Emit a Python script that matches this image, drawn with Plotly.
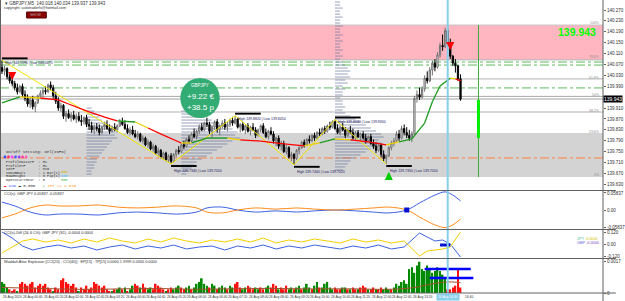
import plotly.graph_objects as go

# ---------------- DATA ----------------
BASE = 139.0  # prices below are thousandths above 139.000 (943 -> 139.943)
opens_pts = [1060,1045,1055,1025,1010,1000,985,970,990,960,
             945,925,940,915,930,955,965,975,970,995,
             985,955,935,910,920,880,890,875,885,870,
             880,865,860,875,850,845,830,840,835,820,
             840,850,835,825,840,830,845,860,850,835,
             820,830,815,805,815,790,800,775,785,760,
             770,745,755,730,745,720,735,715,740,755,
             750,775,770,795,790,815,805,825,840,830,
             855,850,825,840,860,830,845,855,840,850,
             865,855,870,840,850,830,845,825,840,830,
             810,830,845,820,805,825,815,790,800,770,
             780,750,765,730,740,725,755,765,785,775,
             795,790,810,800,820,815,835,825,845,840,
             860,835,820,840,830,810,830,820,800,820,
             805,815,800,790,805,780,770,755,775,740,
             725,735,765,780,790,815,800,835,820,810,
             800,815,945,960,950,980,1020,1010,1050,1075,
             1060,1105,1140,1135,1195,1145,1100,1075,1065,1018]
highs_pts = [1085,1065,1060,1040,1030,1010,1000,995,1000,975,
             960,950,955,935,960,975,985,990,1000,1008,
             995,970,950,930,925,900,905,895,900,890,
             895,885,880,885,870,860,850,855,850,845,
             860,865,850,845,855,850,870,875,865,850,
             840,845,830,825,820,810,805,795,790,780,
             775,765,760,750,750,740,745,745,760,770,
             780,790,800,810,820,835,830,850,855,860,
             875,860,845,865,870,850,865,870,860,872,
             878,882,875,855,860,850,855,845,855,840,
             835,850,855,835,830,840,825,805,810,790,
             790,775,770,750,745,760,770,790,795,800,
             810,815,820,825,835,840,845,850,860,865,
             868,850,845,855,840,835,845,835,825,830,
             820,825,815,810,815,795,785,780,780,755,
             740,770,790,800,825,830,845,850,840,830,
             825,955,975,985,990,1030,1045,1060,1085,1090,
             1115,1150,1180,1205,1210,1165,1105,1090,1068,1034]
lows_pts = [1035,1030,1015,1000,990,975,960,965,950,935,
            915,910,905,895,925,945,950,960,965,975,
            945,925,900,895,870,860,870,860,865,855,
            860,845,850,840,830,820,815,825,810,815,
            830,830,815,820,825,820,840,845,830,815,
            810,810,800,795,785,780,770,765,755,750,
            740,735,725,720,715,710,705,710,730,740,
            745,760,765,780,785,800,795,815,825,825,
            840,815,800,830,820,810,835,830,825,840,
            845,850,835,820,825,815,820,810,825,800,
            805,820,815,800,795,810,780,770,760,755,
            745,740,725,715,702,720,740,760,765,770,
            780,785,790,795,805,810,815,820,830,835,
            830,815,810,825,800,805,815,795,795,800,
            790,795,780,785,775,760,745,750,730,715,
            705,730,755,770,785,790,795,810,800,790,
            785,810,930,940,945,970,1000,1005,1030,1045,
            1055,1095,1120,1130,1135,1090,1065,1040,1010,937]
closes_pts = [1045,1055,1025,1010,1000,985,970,990,960,945,
              925,940,915,930,955,965,975,970,995,985,
              955,935,910,920,880,890,875,885,870,880,
              865,860,875,850,845,830,840,835,820,840,
              850,835,825,840,830,845,860,850,835,820,
              830,815,805,815,790,800,775,785,760,770,
              745,755,730,745,720,735,715,740,755,750,
              775,770,795,790,815,805,825,840,830,855,
              850,825,840,860,830,845,855,840,850,865,
              855,870,840,850,830,845,825,840,830,810,
              830,845,820,805,825,815,790,800,770,780,
              750,765,730,740,725,755,765,785,775,795,
              790,810,800,820,815,835,825,845,840,860,
              835,820,840,830,810,830,820,800,820,805,
              815,800,790,805,780,770,755,775,740,725,
              735,765,780,790,815,800,835,820,810,800,
              815,945,960,950,980,1020,1010,1050,1075,1060,
              1105,1140,1135,1195,1145,1100,1075,1065,1018,943]

# coloured moving average (knots)
ma_bars = [0,7,15,22,26,34,41,45,52,57,63,70,74,80,88,93,101,111,118,124,
           130,136,143,150,155,160,165,168,171,175,177,179]
ma_pts = [929,951,947,940,925,896,874,863,859,837,811,782,782,800,800,793,789,778,771,782,
          797,793,786,775,786,797,855,933,991,1020,1017,1010]
ma_cols = "gyrrrrrgyrryggyrrrygyrrygggggyrr"

# zigzag pivots
zz_bars = [0, 66, 91, 114, 130, 150]
zz_prices = [140.085, 139.705, 139.882, 139.702, 139.868, 139.705]
zz_kind = ["H", "L", "H", "L", "H", "L"]
zz_texts = ["High 140.1590 | Low 140.0675", "High 139.7340 | Low 139.7050",
            "High 139.8820 | Low 139.8450", "High 139.7400 | Low 139.7020",
            "High 139.8680 | Low 139.8300", "High 139.7350 | Low 139.7050"]

# arrows
sig_bars = [4, 175, 151]
sig_prices = [140.013, 140.123, 139.676]
sig_dirs = ["down", "down", "up"]

# volume profiles (base bar, price rows, row lengths in bars)
prof1_base = 33
prof1_prices = [139.910,139.899,139.888,139.877,139.866,139.855,139.844,139.833,139.822,139.811,
                139.800,139.789,139.778,139.767,139.756,139.745,139.734,139.723,139.712,139.701,
                139.690,139.679,139.668]
prof1_len = [2,3,4,5,6,8,10,11,12,11,12,10,9,8,7,6,5,4,4,3,3,2,2]
prof2_base = 70
prof2_prices = [139.899,139.888,139.877,139.866,139.855,139.844,139.833,139.822,139.811,139.800,
                139.789,139.778,139.767,139.756,139.745,139.734,139.723,139.712,139.701,139.690,
                139.679,139.668]
prof2_len = [3,6,9,12,15,18,20,22,21,23,20,18,16,14,12,10,8,6,5,4,3,2]
prof3_base = 130
prof3_prices = [140.299,140.288,140.277,140.266,140.255,140.244,140.233,140.222,140.211,140.200,
                140.189,140.178,140.167,140.156,140.145,140.134,140.123,140.112,140.101,140.090,
                140.079,140.068,140.057,140.046,140.035,140.024,140.013,140.002,139.991,139.980,
                139.969,139.958,139.947,139.936,139.925,139.914,139.903,139.892,139.881,139.870,
                139.859,139.848,139.837,139.826,139.815,139.804,139.793,139.782,139.771,139.760,
                139.749,139.738,139.727,139.716,139.705,139.694,139.683]
prof3_len = [2,2,3,2,2,3,2,2,3,2,2,3,2,3,2,2,3,2,3,2,
             3,4,5,6,5,6,4,5,3,4,3,3,2,3,
             3,4,3,4,
             6,8,10,12,14,16,18,19,17,18,16,14,12,10,8,6,5,4,3]

# levels / zones
pink_zone = [140.087, 140.215]
gray_zone = [139.657, 139.819]
level_prices = [140.215, 140.087, 140.079, 140.068, 140.017, 139.984, 139.953, 139.896, 139.727]
level_colors = ["#C8C8C8", "#B0B0B0", "#5DBB5D", "#5DBB5D", "#B4B4B4", "#5DBB5D", "#A8A8A8", "#D8D8D8", "#FF7F3F"]
level_widths = [1, 1, 1, 1, 1, 1, 1, 2, 1]
level_dash = ["solid", "solid", "dashdot", "dashdot", "solid", "dashdot", "solid", "solid", "dashdot"]
fib_labels = ["100%", "78.6%", "61.8%", "50%", "38.2%", "23.6%", "0%"]
fib_prices = [140.222, 140.097, 140.021, 139.958, 139.900, 139.823, 139.664]
target_bar = 186
target_range = [139.800, 139.940]
crosshair_bar = 174

main_ticks = [140.270,140.230,140.190,140.150,140.110,140.070,140.030,139.990,
              139.910,139.870,139.830,139.790,139.750,139.710,139.670,139.630]

# CCI panel
cci_bars = [0,5,11,17,22,30,38,45,53,61,68,76,80,86,92,99,107,115,122,130,138,145,151,158,163,169,173,176,179]
cci_gbp = [0.027,0.014,-0.007,-0.017,-0.014,-0.014,-0.017,-0.010,-0.007,-0.010,-0.014,-0.007,0.007,0.010,0.0,
           -0.007,-0.003,-0.007,-0.003,0.0,-0.003,-0.007,-0.010,0.0,0.024,0.051,0.062,0.051,0.031]
cci_jpy = [-0.027,-0.014,0.007,0.017,0.014,0.014,0.017,0.010,0.007,0.010,0.014,0.007,-0.007,-0.010,0.0,
           0.007,0.003,0.007,0.003,0.0,0.003,0.007,0.010,0.0,-0.024,-0.051,-0.060,-0.051,-0.031]

# CCI diff panel
p2_bars = [0,4,8,12,17,22,27,32,37,42,47,52,57,62,67,72,77,82,87,92,
           97,102,107,112,117,122,127,132,137,142,147,152,157,160,163,166,169,172,175,179]
p2_gbp = [0.12,0.06,-0.02,-0.06,-0.03,-0.01,-0.04,-0.02,-0.06,-0.03,-0.01,-0.05,-0.02,-0.04,-0.01,-0.05,-0.03,-0.02,-0.06,-0.02,
          -0.04,-0.01,-0.05,-0.02,-0.04,-0.01,-0.03,-0.05,-0.02,-0.04,-0.01,-0.05,-0.03,0.04,0.11,0.07,0.03,0.04,0.00,-0.13]
p2_jpy = [-0.09,-0.03,0.03,0.05,0.02,0.04,0.01,0.05,0.02,0.06,0.03,0.01,0.05,0.02,0.06,0.03,0.01,0.04,0.02,0.05,
          0.02,0.06,0.01,0.04,0.02,0.05,0.03,0.01,0.05,0.02,0.04,0.01,0.03,-0.05,-0.12,-0.07,-0.06,-0.05,-0.03,0.12]

# Waddah Attar histogram (x 0.0001)
hist_e4 = [6,5,3,2, 1,2,1,5, 6,5,4,5,6,3,4,5, 4,5,3,2,1,3, 2,7,8,6,5,4,5,3,
           1,3,2,4,2,3,6, 5,4,3,4,2,1,1,2, 2,3,2,3,1,2,4, 5,4,3,5,3,2,3,2,
           5,4,3,2,1,2,3,2,3, 4,3,2,3,4,2,3,5,6, 8,5,4,3,5,4,2,3,
           4,3,2,4,3,5,6,3,2,3, 4,3,2,3,2,3,2,3,4, 3,5,4,2,3,2,4,2,3,
           2,3,4,2,3,5,3,2,4, 6,3,3,5,6,3,2,3,2, 2,3,3,2,2,3,2,2,3,
           4,3,2,2,3,2,2,3,2, 3,2,2,3,5,4,6,7, 5,13,14,11,15,17,13,12,
           15,13,11,12,14,12,10,8, 2,2,3,4,13,3]
hist_col = ("gggr" "rrgr" "rrrrrrrr" "rrrrgr" "rrrrrrrr" "grrrrrr" "rrrrrrgr" "ggrgrgg"
            "rrgrrggr" "rrrrgrrgg" "grrggrggg" "gggrggrg" "ggrggrrrgg" "rrrggrrgg"
            "rrrgrrrgg" "rggrgggrg" "grgggggrr" "rggrgrrgr" "rrgrrgrrg"
            "ggrggggg" "gggggggg" "gggggggg" "rrrrrr")
expl_bars = [0,15,30,45,60,75,90,105,120,135,150,158,163,168,172,176,179]
expl_e4 = [3,2.5,2,2.2,2.5,2,2.3,2.5,2.2,2.3,2,2.5,3.5,5,5.8,6,5.5]
hist_lvl_start = [165, 167]
hist_lvl_end = [183, 184]
hist_lvl_val = [0.00131, 0.00082]

tick_bars = [0,8,16,24,32,40,48,56,64,72,80,88,96,104,112,120,128,136,144,152,160]
tick_labels = ["26 Aug 2020","26 Aug 00:40","26 Aug 01:20","26 Aug 02:00","26 Aug 02:40","26 Aug 03:20",
               "26 Aug 04:00","26 Aug 04:40","26 Aug 05:20","26 Aug 06:00","26 Aug 06:40","26 Aug 07:20",
               "26 Aug 08:00","26 Aug 08:40","26 Aug 09:20","26 Aug 10:00","26 Aug 10:40","26 Aug 11:20",
               "26 Aug 12:00","26 Aug 12:40","26 Aug 13:20"]
crosshair_label = "26 Aug 14:30"
tail_label_bar = 180.3
tail_label = "14:40"

# ---------------- GEOMETRY ----------------
bars = list(range(len(closes_pts)))
opens = [BASE + v / 1000 for v in opens_pts]
highs = [BASE + v / 1000 for v in highs_pts]
lows = [BASE + v / 1000 for v in lows_pts]
closes = [BASE + v / 1000 for v in closes_pts]
ma_prices = [BASE + v / 1000 for v in ma_pts]
hist_vals = [v / 10000 for v in hist_e4]
expl_vals = [v / 10000 for v in expl_e4]

PW, PH = 612, 293
def px(x): return x / PW
def py(y): return 1 - y / PH

BAR_PX, FIRST_PX = 2.6, 2.0
XR = [(0 - FIRST_PX) / BAR_PX, (PW - FIRST_PX) / BAR_PX]
MAIN_R = [139.6094, 140.3067]

fig = go.Figure()
SANS = "Liberation Sans"
MONO = "Liberation Mono"

for base, prs, lens in [(prof1_base, prof1_prices, prof1_len), (prof2_base, prof2_prices, prof2_len),
                        (prof3_base, prof3_prices, prof3_len)]:
    fig.add_trace(go.Bar(orientation="h", y=prs, x=lens, base=base, width=0.0055,
                         marker=dict(color="rgba(105,118,155,0.45)", line=dict(width=0)),
                         xaxis="x", yaxis="y", showlegend=False, hoverinfo="skip"))

fig.add_trace(go.Candlestick(x=bars, open=opens, high=highs, low=lows, close=closes,
                             increasing=dict(line=dict(color="#707070", width=1), fillcolor="#ffffff"),
                             decreasing=dict(line=dict(color="#000000", width=1), fillcolor="#000000"),
                             whiskerwidth=0, xaxis="x", yaxis="y", showlegend=False, hoverinfo="skip"))

fig.add_trace(go.Scatter(x=zz_bars, y=zz_prices, mode="lines", line=dict(color="#F2E600", width=1),
                         xaxis="x", yaxis="y", showlegend=False, hoverinfo="skip"))

cmap = {"g": "#1E9A1E", "r": "#FF0000", "y": "#F0D000"}
for c, col in cmap.items():
    xs, ys = [], []
    for k in range(len(ma_bars) - 1):
        if ma_cols[k] == c:
            xs += [ma_bars[k], ma_bars[k + 1], None]
            ys += [ma_prices[k], ma_prices[k + 1], None]
    fig.add_trace(go.Scatter(x=xs, y=ys, mode="lines", line=dict(color=col, width=1.3),
                             xaxis="x", yaxis="y", showlegend=False, hoverinfo="skip"))

fig.add_trace(go.Scatter(x=cci_bars, y=cci_gbp, mode="lines", line=dict(color="#3D62E0", width=1, shape="spline"),
                         xaxis="x2", yaxis="y2", showlegend=False, hoverinfo="skip"))
fig.add_trace(go.Scatter(x=cci_bars, y=cci_jpy, mode="lines", line=dict(color="#FF8C1A", width=1, shape="spline"),
                         xaxis="x2", yaxis="y2", showlegend=False, hoverinfo="skip"))
fig.add_trace(go.Scatter(x=[158], y=[0.0], mode="markers", marker=dict(symbol="square", size=5, color="#0010D0"),
                         xaxis="x2", yaxis="y2", showlegend=False, hoverinfo="skip"))
fig.add_trace(go.Scatter(x=p2_bars, y=p2_gbp, mode="lines", line=dict(color="#3D62E0", width=1),
                         xaxis="x3", yaxis="y3", showlegend=False, hoverinfo="skip"))
fig.add_trace(go.Scatter(x=p2_bars, y=p2_jpy, mode="lines", line=dict(color="#F5D000", width=1),
                         xaxis="x3", yaxis="y3", showlegend=False, hoverinfo="skip"))
fig.add_trace(go.Scatter(x=[171, 175], y=[-0.01, -0.01], mode="lines", line=dict(color="#0010D0", width=3),
                         xaxis="x3", yaxis="y3", showlegend=False, hoverinfo="skip"))
hcols = ["#008A00" if c == "g" else "#FF1010" for c in hist_col]
fig.add_trace(go.Bar(x=bars, y=hist_vals, width=0.65, marker=dict(color=hcols, line=dict(width=0)),
                     xaxis="x4", yaxis="y4", showlegend=False, hoverinfo="skip"))
fig.add_trace(go.Scatter(x=expl_bars, y=expl_vals, mode="lines", line=dict(color="#A0522D", width=1, shape="spline"),
                         xaxis="x4", yaxis="y4", showlegend=False, hoverinfo="skip"))
for b0, b1, v in zip(hist_lvl_start, hist_lvl_end, hist_lvl_val):
    fig.add_trace(go.Scatter(x=[b0, b1], y=[v, v], mode="lines", line=dict(color="#0000FF", width=2.5),
                             xaxis="x4", yaxis="y4", showlegend=False, hoverinfo="skip"))

shapes = []
shapes.append(dict(type="rect", xref="paper", yref="y", x0=0, x1=1, y0=pink_zone[0], y1=pink_zone[1],
                   fillcolor="#FFB6C1", line=dict(width=0), layer="below"))
shapes.append(dict(type="rect", xref="paper", yref="y", x0=0, x1=1, y0=gray_zone[0], y1=gray_zone[1],
                   fillcolor="#D3D3D3", line=dict(width=0), layer="below"))
for p, c, w, d in zip(level_prices, level_colors, level_widths, level_dash):
    shapes.append(dict(type="line", xref="paper", yref="y", x0=0, x1=1, y0=p, y1=p,
                       line=dict(color=c, width=w, dash=d), layer="below"))
shapes.append(dict(type="line", xref="paper", yref="y", x0=0, x1=1, y0=closes[-1], y1=closes[-1],
                   line=dict(color="#D0D0D0", width=2), layer="below"))
shapes.append(dict(type="line", xref="x", yref="y", x0=target_bar, x1=target_bar, y0=gray_zone[0], y1=pink_zone[1],
                   line=dict(color="#3DAA3D", width=1)))
shapes.append(dict(type="line", xref="x", yref="y", x0=target_bar, x1=target_bar, y0=target_range[0], y1=target_range[1],
                   line=dict(color="#00EE00", width=3)))
for b, p, k in zip(zz_bars, zz_prices, zz_kind):
    y0, y1 = (p + 0.004, p + 0.011) if k == "H" else (p - 0.011, p - 0.004)
    shapes.append(dict(type="rect", xref="x", yref="y", x0=b, x1=b + 10, y0=y0, y1=y1,
                       fillcolor="#000000", line=dict(width=0)))
shapes.append(dict(type="line", xref="x", yref="paper", x0=crosshair_bar, x1=crosshair_bar, y0=0, y1=1,
                   line=dict(color="#87CEEB", width=2)))
shapes.append(dict(type="circle", xref="paper", yref="paper", x0=px(183), x1=px(223), y0=py(118), y1=py(78),
                   fillcolor="#33AC74", line=dict(width=0)))
shapes.append(dict(type="rect", xref="paper", yref="paper", x0=px(27), x1=px(47), y0=py(18), y1=py(12),
                   fillcolor="#8B0000", line=dict(color="#5A0000", width=1)))
for i, c in enumerate(["#3050FF", "#FF3060", "#FF40FF", "#4060FF", "#A040FF", "#FF40A0", "#FF60C0"]):
    cx = 5 + 3.6 * i
    shapes.append(dict(type="circle", xref="paper", yref="paper", x0=px(cx - 1.4), x1=px(cx + 1.4),
                       y0=py(158.4), y1=py(155.6), fillcolor=c, line=dict(width=0)))
for yy in [190.5, 229.5, 258.5, 293]:
    shapes.append(dict(type="line", xref="paper", yref="paper", x0=0, x1=625 / PW, y0=py(yy), y1=py(yy),
                       line=dict(color="#606060", width=1)))
shapes.append(dict(type="line", xref="paper", yref="paper", x0=1, x1=1, y0=py(301), y1=1,
                   line=dict(color="#606060", width=1)))
shapes.append(dict(type="line", xref="paper", yref="paper", x0=px(0.5), x1=px(0.5), y0=py(293), y1=1,
                   line=dict(color="#606060", width=1)))

ann = []
def txt(t, x, y, size=4, color="#303030", family=SANS, anchor="left"):
    ann.append(dict(text=t, x=px(x), y=py(y), xref="paper", yref="paper", showarrow=False,
                    xanchor=anchor, yanchor="middle", font=dict(size=size, color=color, family=family)))

txt("▾ GBPJPY,M5  %.3f %.3f %.3f %.3f" % (opens[-1], highs[-1], lows[-1], closes[-1]), 3, 4, 4.5)
txt("copyright: autotraderfx@hotmail.com", 2, 8.5, 3.8)
txt("SHOW", 37, 15, 3.5, "#B0B0B0", anchor="center")
txt("GBPJPY", 203, 86, 4.5, "#ffffff", anchor="center")
txt("+9.22 €", 203, 96, 8, "#ffffff", anchor="center")
txt("+38.5 p", 203, 107, 8, "#ffffff", anchor="center")
txt("<b>%.3f</b>" % closes[-1], 607, 32, 10.5, "#00FF00", anchor="right")
for lab, p in zip(fib_labels, fib_prices):
    ann.append(dict(text=lab, x=px(610), y=p, xref="paper", yref="y", showarrow=False, xanchor="right",
                    yanchor="middle", font=dict(size=3.5, color="#909090", family=SANS)))
ann.append(dict(text="%.3f" % closes[-1], x=1.0, y=closes[-1], xref="paper", yref="y", showarrow=False,
                xanchor="left", yanchor="middle", bgcolor="#000000", borderpad=0,
                font=dict(size=5, color="#ffffff", family=SANS)))
for b, p, k, t in zip(zz_bars, zz_prices, zz_kind, zz_texts):
    yy = p + 0.004 if k == "H" else p - 0.011
    ann.append(dict(text=t, x=b + 0.5, y=yy, xref="x", yref="y", showarrow=False, xanchor="left",
                    yanchor="top", font=dict(size=3.5, color="#202060", family=SANS)))
for b, p, d in zip(sig_bars, sig_prices, sig_dirs):
    col = "#FF0000" if d == "down" else "#00CC00"
    ann.append(dict(text="", x=b, y=p, xref="x", yref="y", showarrow=True, ax=0, ay=-8 if d == "down" else 8,
                    arrowhead=2, arrowsize=0.9, arrowwidth=1.8, arrowcolor=col))
txt("On/Off Setting: Del(INFO)", 4, 152, 4, "#303030", MONO)
for i, line in enumerate(["ProfileDataTF  : H1", "ProfileTF      : H1", "IDTF           : M15",
                          "IDNumBars      : 1 Bar(s)", "RowHeight      : 3 Pip(s)", "OpenStartHour  : 0"]):
    txt(line, 4, 162 + 3.5 * i, 3.6, "#303030", MONO)
txt("000", 60, 172, 3.6, "#C8B400", MONO)
txt("000", 60, 176, 3.6, "#40C0FF", MONO)
txt("000", 60, 180, 3.6, "#40C040", MONO)
txt("<span style='color:#FF2020'>▬</span> <span style='color:#3050FF'>USD</span> ▬ 0.000   "
    "<span style='color:#20A020'>+</span> <span style='color:#FF8C00'>JPY ++ 1.379</span>", 2, 186, 4, "#303030", MONO)
txt("CCI(s): GBP JPY 0.05837 -0.05837", 2, 194, 3.8)
txt("<span style='color:#3D62E0'>→</span> <span style='color:#FF8C1A'>→</span>", 12, 198.5, 4.5)
txt("CCI(s)-Diff (2& 6 CG): GBP JPY (S1) -0.0004 0.0004", 2, 233, 3.8)
txt("<span style='color:#3D62E0'>→</span> <span style='color:#F5D000'>→</span>", 38, 237, 4.5)
txt("<span style='color:#40C0A0'>JPY</span>  <span style='color:#D4C000'>0.0000</span>", 584, 239, 3.8)
txt("<span style='color:#6060E0'>GBP</span> <span style='color:#8040C0'>-0.0000</span>", 584, 243, 3.8)
txt("Waddah Attar Explosion [CCI(20) : CCI(40)] : EP[15] : TP[15] 0.0000 1.9999 0.0300 0.0000", 2, 262, 3.8)
for b, lab in zip(tick_bars, tick_labels):
    ann.append(dict(text=lab, x=b, y=py(297.5), xref="x", yref="paper", showarrow=False, xanchor="left",
                    yanchor="middle", borderpad=0, font=dict(size=3.3, color="#303030", family=SANS)))
ann.append(dict(text=crosshair_label, x=crosshair_bar, y=py(297.5), xref="x", yref="paper", showarrow=False,
                xanchor="center", yanchor="middle", bgcolor="#87CEEB", borderpad=1,
                font=dict(size=3.3, color="#ffffff", family=SANS)))
ann.append(dict(text=tail_label, x=tail_label_bar, y=py(297.5), xref="x", yref="paper", showarrow=False,
                xanchor="left", yanchor="middle", borderpad=0, font=dict(size=3.3, color="#303030", family=SANS)))

axis_common = dict(showgrid=False, zeroline=False, showline=False, fixedrange=True)
tf = dict(size=4.5, color="#303030", family=SANS)
fig.update_layout(
    width=625, height=301, margin=dict(l=0, r=13, t=0, b=8),
    paper_bgcolor="#ffffff", plot_bgcolor="#ffffff", barmode="overlay", showlegend=False,
    xaxis=dict(domain=[0, 1], range=XR, anchor="y", showticklabels=False, ticks="",
               rangeslider=dict(visible=False), **axis_common),
    xaxis2=dict(domain=[0, 1], range=XR, anchor="y2", matches="x", showticklabels=False, ticks="", **axis_common),
    xaxis3=dict(domain=[0, 1], range=XR, anchor="y3", matches="x", showticklabels=False, ticks="", **axis_common),
    xaxis4=dict(domain=[0, 1], range=XR, anchor="y4", matches="x", showticklabels=False, ticks="", **axis_common),
    yaxis=dict(domain=[py(190), 1], range=MAIN_R, side="right", anchor="x", tickvals=main_ticks,
               ticktext=["%.3f" % v for v in main_ticks], ticks="outside", ticklen=2, tickcolor="#606060",
               tickfont=tf, **axis_common),
    yaxis2=dict(domain=[py(229), py(191)], range=[-0.065, 0.065], side="right", anchor="x2",
                tickvals=[0.05837, 0, -0.05837], ticktext=["0.05837", "0.00", "-0.05837"], ticks="outside",
                ticklen=2, tickcolor="#606060", tickfont=tf, **axis_common),
    yaxis3=dict(domain=[py(258), py(230)], range=[-0.14, 0.14], side="right", anchor="x3",
                tickvals=[0.12, 0, -0.12], ticktext=["0.120", "0.00", "-0.120"], ticks="outside",
                ticklen=2, tickcolor="#606060", tickfont=tf, **axis_common),
    yaxis4=dict(domain=[0, py(259)], range=[0, 0.00185], side="right", anchor="x4",
                tickvals=[0.0017, 0], ticktext=["0.0017", "0"], ticks="outside",
                ticklen=2, tickcolor="#606060", tickfont=tf, **axis_common),
    shapes=shapes, annotations=ann,
)
fig.write_html("out.html")
